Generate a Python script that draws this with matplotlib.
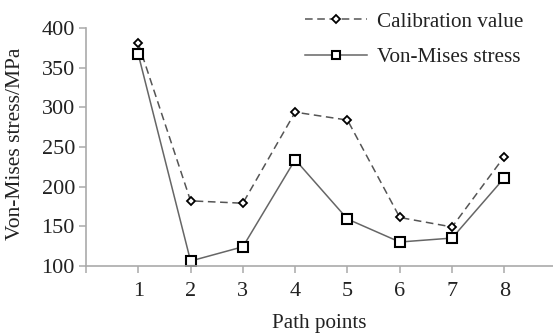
import matplotlib
matplotlib.use("Agg")
import matplotlib.pyplot as plt

# Stress values along the inspection path
path_points = [1, 2, 3, 4, 5, 6, 7, 8]
calibration_value = [381, 182, 179, 294, 284, 161, 149, 238]
von_mises_stress = [367, 106, 124, 234, 159, 130, 135, 211]
y_ticks = [100, 150, 200, 250, 300, 350, 400]

plt.rcParams['font.family'] = ['Liberation Serif', 'DejaVu Serif']

fig = plt.figure(figsize=(5.53, 3.36), dpi=100)
ax = fig.add_axes([0.1555, 0.209, 0.8445, 0.707])

ax.plot(path_points, calibration_value, linestyle=(0, (5, 3)), color='#555555',
        linewidth=1.1, marker='D', markersize=4.5, markerfacecolor='white',
        markeredgecolor='black', markeredgewidth=1.3, label='Calibration value')
ax.plot(path_points, von_mises_stress, linestyle='-', color='#666666',
        linewidth=1.1, marker='s', markersize=6.5, markerfacecolor='white',
        markeredgecolor='black', markeredgewidth=1.5, label='Von-Mises stress')

ax.set_xlim(0, 8.93)
ax.set_ylim(100, 400)
ax.set_xticks(range(0, 9))
ax.set_xticklabels([''] + [str(p) for p in path_points])
ax.set_yticks(y_ticks)

for side in ('top', 'right'):
    ax.spines[side].set_visible(False)
for side in ('left', 'bottom'):
    ax.spines[side].set_color('#aaaaaa')
    ax.spines[side].set_linewidth(1.2)

ax.tick_params(axis='both', colors='#aaaaaa', labelcolor='#222222',
               labelsize=16, length=5, width=1.1, direction='out')
ax.tick_params(axis='x', pad=7)
ax.tick_params(axis='y', pad=3)

ax.set_xlabel('Path points', fontsize=15.2, color='#222222', labelpad=9)
ax.set_ylabel('Von-Mises stress/MPa', fontsize=15.5, color='#222222')
ax.yaxis.set_label_coords(-0.13, 0.513)

leg = ax.legend(loc='upper right', bbox_to_anchor=(0.955, 1.105), frameon=False,
                fontsize=15.2, handlelength=2.9, handletextpad=0.5,
                labelspacing=0.75, borderaxespad=0, markerscale=0.85)
for t in leg.get_texts():
    t.set_color('#222222')

fig.savefig('out.png', dpi=100)
